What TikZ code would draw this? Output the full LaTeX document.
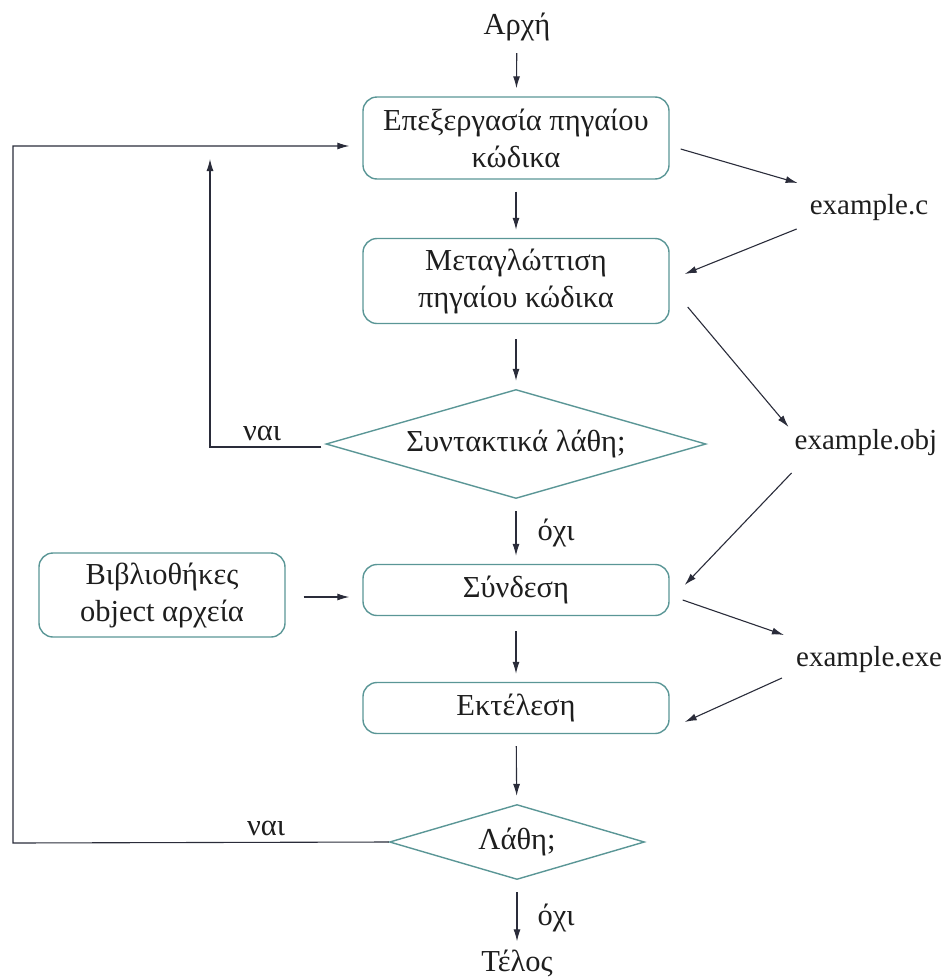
\documentclass[tikz,border=0pt]{standalone}
\usepackage{fontspec}
\setmainfont{Liberation Serif}
\usetikzlibrary{shapes.geometric,arrows.meta,calc}
\definecolor{boxcol}{HTML}{5A9696}
\definecolor{arrcol}{HTML}{2A2C3A}
\definecolor{txtcol}{HTML}{1E1E1E}
\begin{document}
\begin{tikzpicture}[x=1pt,y=-1pt,
  every node/.style={text=txtcol,font=\fontsize{30.5}{37}\selectfont},
  procbox/.style={draw=boxcol,line width=1.4pt,rounded corners=14pt,minimum width=306pt,align=center,inner sep=0pt},
  decbox/.style={draw=boxcol,line width=1.4pt,diamond,inner sep=0pt},
  plain/.style={inner sep=0pt},
  fname/.style={inner sep=0pt,font=\fontsize{29}{35}\selectfont},
  arr/.style={draw=arrcol,line width=1.1pt,-{Latex[length=12pt,width=7pt]}},
  flow/.style={arr,shorten <=12pt,shorten >=8pt},
  lbl/.style={inner sep=0pt}
]
\useasboundingbox (0,0) rectangle (941,980);
\node[plain] (start) at (517,27) {Αρχή};
\node[procbox,minimum height=82pt] (b1) at (516,138) {Επεξεργασία πηγαίου\\κώδικα};
\node[procbox,minimum height=85pt] (b2) at (516,281) {Μεταγλώττιση\\πηγαίου κώδικα};
\node[decbox,aspect=3.5,minimum width=380pt,minimum height=109pt] (d1) at (516,444) {Συντακτικά λάθη;};
\node[procbox,minimum height=51pt] (link) at (516,590) {Σύνδεση};
\node[procbox,minimum width=246pt,minimum height=84pt] (lib) at (162,595) {Βιβλιοθήκες\\object αρχεία};
\node[procbox,minimum height=51pt] (run) at (516,708) {Εκτέλεση};
\node[decbox,aspect=3.4,minimum width=255pt,minimum height=75pt] (d2) at (517,842) {Λάθη;};
\node[plain] (end) at (517,963) {Τέλος};
\node[fname] (exc) at (869,208) {example.c};
\node[fname] (exo) at (866,443) {example.obj};
\node[fname] (exe) at (869,660) {example.exe};
\node[lbl] (yes1) at (262,433) {ναι};
\node[lbl] (yes2) at (266,828) {ναι};
\node[lbl] (no1) at (556,533) {όχι};
\node[lbl] (no2) at (556,918) {όχι};
% main flow
\draw[flow] (start) -- (b1);
\draw[flow] (b1) -- (b2);
\draw[flow,shorten <=15pt] (b2) -- (d1);
\draw[flow] (d1) -- (link);
\draw[flow,shorten <=15pt] (link) -- (run);
\draw[flow] (run) -- (d2);
\draw[flow] (d2) -- (end);
% side arrows
\draw[arr] ($(b1.east)+(11,11)$) -- ($(exc.west)+(-12,-25)$);
\draw[arr] ($(exc.west)+(-13,21)$) -- ($(b2.east)+(15,-7)$);
\draw[arr] ($(b2.east)+(18,26)$) -- ($(exo.west)+(-6,-16)$);
\draw[arr] ($(exo.west)+(-3,30)$) -- ($(link.east)+(15,-5)$);
\draw[arr] ($(link.east)+(13,10)$) -- ($(exe.west)+(-12,-25)$);
\draw[arr] ($(exe.west)+(-14,18)$) -- ($(run.east)+(15,14)$);
\draw[arr] ($(lib.east)+(18,2)$) -- ($(link.west)+(-13,7)$);
% loops
\coordinate (l1a) at (210,447);
\coordinate (l1b) at (210,159);
\draw[arr] ($(d1.west)+(-4,3)$) -- (l1a) -- (l1b);
\coordinate (l2a) at (13,843);
\coordinate (l2b) at (13,146);
\draw[arr] (d2.west) -- (l2a) -- (l2b) -- ($(b1.west)+(-13,8)$);
\end{tikzpicture}
\end{document}
